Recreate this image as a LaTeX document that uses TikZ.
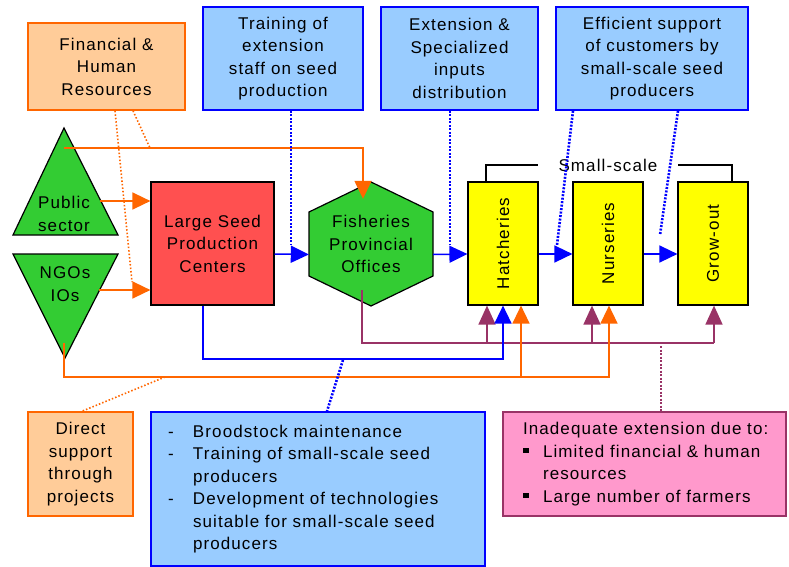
\documentclass[tikz,border=0pt]{standalone}
\usepackage{graphicx}
\usepackage{fontspec}
\setmainfont[LetterSpace=6.5]{Liberation Sans}
\usepackage{tikz}
\usepackage{xcolor}
\usetikzlibrary{arrows.meta}

\definecolor{forange}{RGB}{255,204,153}
\definecolor{dorange}{RGB}{255,102,0}
\definecolor{fblue}{RGB}{153,204,255}
\definecolor{dblue}{RGB}{0,0,255}
\definecolor{fred}{RGB}{255,80,80}
\definecolor{fgreen}{RGB}{51,204,51}
\definecolor{fyellow}{RGB}{255,255,0}
\definecolor{dpurple}{RGB}{153,51,102}
\definecolor{fpink}{RGB}{255,153,204}

\newcommand{\sqbul}{\rule[4pt]{5.5pt}{5.5pt}}

\begin{document}
\begin{tikzpicture}[x=1pt,y=-1pt,
  every node/.style={font=\fontsize{17}{22.5}\selectfont, align=center, inner sep=0pt},
  obox/.style={draw=dorange, fill=forange, line width=1.6pt},
  bbox/.style={draw=dblue, fill=fblue, line width=1.6pt},
  gshape/.style={draw=black, fill=fgreen, line width=1.2pt},
  rshape/.style={draw=black, fill=fred, line width=1.2pt},
  yshape/.style={draw=black, fill=fyellow, line width=1.2pt, minimum width=70pt, minimum height=123pt},
  barrow/.style={draw=dblue, line width=1.5pt, -{Triangle[length=18pt,width=17pt]}},
  oarrow/.style={draw=dorange, line width=1.5pt, -{Triangle[length=18pt,width=17pt]}},
  parrow/.style={draw=dpurple, line width=1.5pt, -{Triangle[length=19pt,width=17pt]}},
  pline/.style={draw=dpurple, line width=1.5pt},
  bracket/.style={draw=black, line width=1.3pt},
  bdot/.style={draw=dblue, line width=2.6pt, dash pattern=on 2pt off 1.5pt},
  odot/.style={draw=dorange, line width=1.6pt, dash pattern=on 1.5pt off 2pt},
  pdot/.style={draw=dpurple, line width=2.6pt, dash pattern=on 2pt off 1.5pt}]

\useasboundingbox (0,0) rectangle (789,567);

% top boxes
\node[obox, minimum width=157pt, minimum height=87pt] (fin) at (106.5,66.5) {Financial \&\\Human\\Resources};
\node[bbox, minimum width=160pt, minimum height=103pt] (train) at (283,58.5) {Training of\\extension\\staff on seed\\production};
\node[bbox, minimum width=157pt, minimum height=103pt] (ext) at (459.5,58.5) {Extension \&\\Specialized\\inputs\\distribution};
\node[bbox, minimum width=192pt, minimum height=103pt] (eff) at (652,58.5) {Efficient support\\of customers by\\small-scale seed\\producers};

% sectors
\filldraw[gshape] (64,128) -- (118,235) -- (13,235) -- cycle;
\filldraw[gshape] (13,254) -- (118,254) -- (65,358) -- cycle;
\node (pub) at (64,214) {Public\\sector};
\node (ngo) at (65,284) {NGOs\\IOs};

% centres
\node[rshape, minimum width=123pt, minimum height=123pt] (lspc) at (212.5,243.5) {Large Seed\\Production\\Centers};
\filldraw[gshape] (371,182) -- (433,212) -- (433,276) -- (371,306) -- (309,276) -- (309,212) -- cycle;
\node[minimum width=124pt, minimum height=124pt] (fpo) at (371,244) {Fisheries\\Provincial\\Offices};

% small-scale
\node[yshape] (hat) at (503,243.5) {\rotatebox{90}{Hatcheries}};
\node[yshape] (nur) at (608,243.5) {\rotatebox{90}{Nurseries}};
\node[yshape] (gro) at (713,243.5) {\rotatebox{90}{Grow-out}};
\node (ss) at (608,165) {Small-scale};
\draw[bracket] ([xshift=-17pt]hat.north) |- ([xshift=-70pt]ss.center);
\draw[bracket] ([xshift=19pt]gro.north) |- ([xshift=70pt]ss.center);

% bottom boxes
\node[obox, minimum width=105pt, minimum height=104pt] (dir) at (80.5,464) {Direct\\support\\through\\projects};
\node[bbox, text width=300pt, inner xsep=17pt, minimum height=154pt, align=left] (dev) at (318,489) {%
\makebox[25pt][l]{-}Broodstock maintenance\\
\makebox[25pt][l]{-}Training of small-scale seed\\
\hspace*{25pt}producers\\
\makebox[25pt][l]{-}Development of technologies\\
\hspace*{25pt}suitable for small-scale seed\\
\hspace*{25pt}producers};
\node[draw=dpurple, fill=fpink, line width=1.6pt, text width=243pt, inner xsep=20pt, minimum height=104pt, align=left] (pink) at (644.5,464) {%
\mbox{Inadequate extension due to:}\\
\makebox[20pt][l]{\sqbul}\mbox{Limited financial \& human}\\
\hspace*{20pt}resources\\
\makebox[20pt][l]{\sqbul}\mbox{Large number of farmers}};

% flow
\draw[barrow] ([yshift=-10.5pt]lspc.east) -- ([yshift=-10.5pt]fpo.west);
\draw[barrow] ([yshift=-10.5pt]fpo.east) -- ([yshift=-10.5pt]hat.west);
\draw[barrow] ([yshift=-10.5pt]hat.east) -- ([yshift=-10.5pt]nur.west);
\draw[barrow] ([yshift=-10.5pt]nur.east) -- ([yshift=-10.5pt]gro.west);

\coordinate (pubR) at (100,201);
\coordinate (ngoR) at (99,290);
\coordinate (pubT) at (64,148);
\draw[oarrow] (pubR) -- (pubR -| lspc.west);
\draw[oarrow] (ngoR) -- (ngoR -| lspc.west);
\draw[oarrow] (pubT) -| ([xshift=-8pt,yshift=-17pt]fpo.north);

% support lines
\coordinate (pbus) at (0,343);
\coordinate (bbus) at (0,359);
\coordinate (obus) at (0,377);
\coordinate (fpoP) at (362,290);
\coordinate (ngoB) at (64,343);
\coordinate (hatP) at ([xshift=-16pt]hat.south);
\coordinate (nurP) at ([xshift=-16pt]nur.south);
\coordinate (groP) at ([xshift=1pt]gro.south);
\coordinate (hatO) at ([xshift=18pt]hat.south);
\coordinate (nurO) at ([xshift=1pt]nur.south);

\draw[pline] (fpoP) |- (groP |- pbus);
\draw[parrow] (hatP |- pbus) -- (hatP);
\draw[parrow] (nurP |- pbus) -- (nurP);
\draw[parrow] (groP |- pbus) -- (groP);
\draw[barrow] ([xshift=-9.5pt]lspc.south) |- (hat.south |- bbus) -- (hat.south);
\draw[oarrow] (ngoB) |- (nurO |- obus) -- (nurO);
\draw[oarrow] (hatO |- obus) -- (hatO);

% dotted links
\coordinate (finA) at (132,282);
\coordinate (finB) at (150,148);
\coordinate (trainE) at (291,245);
\coordinate (extE) at (450,245);
\coordinate (effA) at (557,245);
\coordinate (effB) at (660,235);
\coordinate (devT) at (343,360);
\coordinate (dirT) at (165,377);
\coordinate (pinkT) at (661,346);
\draw[odot] ([xshift=8.5pt]fin.south) -- (finA);
\draw[odot] ([xshift=26.5pt]fin.south) -- (finB);
\draw[bdot] ([xshift=8pt]train.south) -- (trainE);
\draw[bdot] ([xshift=-9.5pt]ext.south) -- (extE);
\draw[bdot] ([xshift=-79pt]eff.south) -- (effA);
\draw[bdot] ([xshift=26pt]eff.south) -- (effB);
\draw[bdot] (devT) -- ([xshift=9pt]dev.north);
\draw[odot] (dirT) -- ([xshift=1.5pt]dir.north);
\draw[pdot] (pinkT) -- ([xshift=16.5pt]pink.north);
\end{tikzpicture}
\end{document}
